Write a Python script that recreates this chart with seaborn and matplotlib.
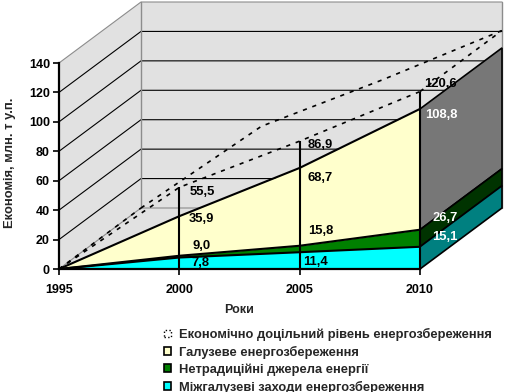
import matplotlib
matplotlib.use('Agg')
import matplotlib.pyplot as plt
from matplotlib.patches import Patch
import seaborn as sns

years = [1995, 2000, 2005, 2010]
mizhgaluzevi = [0, 7.8, 11.4, 15.1]
netradytsiini = [0, 9.0, 15.8, 26.7]
galuzeve = [0, 35.9, 68.7, 108.8]
ekonomichno = [0, 55.5, 86.9, 120.6]
y_ticks = [0, 20, 40, 60, 80, 100, 120, 140]
legend_labels = ['Економічно доцільний рівень енергозбереження',
                 'Галузеве енергозбереження',
                 'Нетрадиційні джерела енергії',
                 'Міжгалузеві заходи енергозбереження']
y_title = 'Економія, млн. т у.п.'
x_title = 'Роки'

sns.set_style('white')
plt.rcParams['font.family'] = ['Liberation Sans', 'DejaVu Sans']
plt.rcParams['font.weight'] = 'bold'
plt.rcParams['axes.labelweight'] = 'bold'

W, H = 508, 392
fig = plt.figure(figsize=(W / 100, H / 100), dpi=100)
ax = fig.add_axes([59 / W, 1 - 269 / H, 361 / W, 206 / H])
ax.set_xlim(1995, 2010)
ax.set_ylim(0, 140)

# depth of the fake 3d box, in data units
dx = 82 / (361 / 15)
dy = 61 / (206 / 140)
wall = '#E1E1E1'
edge = '#8C8C8C'
dash = (0, (2.5, 3.5))

# walls and floor
ax.fill([1995, 1995 + dx, 1995 + dx, 1995], [0, dy, 140 + dy, 140],
        color=wall, lw=0, clip_on=False, zorder=1)
ax.fill([1995 + dx, 2010 + dx, 2010 + dx, 1995 + dx], [dy, dy, 140 + dy, 140 + dy],
        color=wall, lw=0, clip_on=False, zorder=1)
ax.fill([1995, 2010, 2010 + dx, 1995 + dx], [0, 0, dy, dy],
        color=wall, lw=0, clip_on=False, zorder=1)

# grid on walls
for v in y_ticks:
    c = edge if v in (0, 140) else 'black'
    ax.plot([1995, 1995 + dx, 2010 + dx], [v, v + dy, v + dy], color=c,
            lw=0.8, clip_on=False, zorder=2)
ax.plot([1995 + dx, 1995 + dx], [dy, 140 + dy], color=edge, lw=1, clip_on=False, zorder=2)
ax.plot([2010 + dx, 2010 + dx], [dy, 140 + dy], color=edge, lw=1, clip_on=False, zorder=2)

# top level, only dashed outline
back_x = [y + dx for y in years]
back_y = [v + dy for v in ekonomichno]
sns.lineplot(x=years, y=ekonomichno, ax=ax, color='black', lw=1.2, ls=dash,
             clip_on=False, zorder=3, errorbar=None)
sns.lineplot(x=back_x, y=back_y, ax=ax, color='black', lw=1.2, ls=dash,
             clip_on=False, zorder=3, errorbar=None)
ax.plot([1995, back_x[0]], [0, back_y[0]], color='black', lw=1.2, ls=dash,
        clip_on=False, zorder=3)
ax.plot([2010, back_x[-1]], [ekonomichno[-1], back_y[-1]], color='black', lw=1.2,
        ls=dash, clip_on=False, zorder=3)

# stacked front faces and right side faces
layers = [(galuzeve, netradytsiini, '#FFFFCC', '#777777'),
          (netradytsiini, mizhgaluzevi, '#008000', '#003300'),
          (mizhgaluzevi, [0, 0, 0, 0], '#00FFFF', '#008080')]
for top, low, face, side in layers:
    ax.fill_between(years, low, top, color=face, lw=0, clip_on=False, zorder=4)
    ax.fill([2010, 2010 + dx, 2010 + dx, 2010],
            [low[-1], low[-1] + dy, top[-1] + dy, top[-1]],
            facecolor=side, edgecolor='black', lw=1.2, clip_on=False, zorder=4)
    sns.lineplot(x=years, y=top, ax=ax, color='black', lw=1.5, clip_on=False,
                 zorder=5, errorbar=None)

# drop lines
ax.vlines(years[1:], 0, ekonomichno[1:], color='black', lw=1.5, clip_on=False, zorder=6)

# data labels, offsets in pixels from the point, 2000 / 2005 / 2010
label_sets = [(ekonomichno, [(23, -5), (21, -4), (20, 8)], ['black', 'black', 'black']),
              (galuzeve, [(22, -3), (20, -10), (21, -6)], ['black', 'black', 'white']),
              (netradytsiini, [(22, 10), (21, 15), (25, 12)], ['black', 'black', 'white']),
              (mizhgaluzevi, [(21, -5.5), (16, -10), (25, 10)], ['black', 'black', 'white'])]
for vals, offs, cols in label_sets:
    for i in [1, 2, 3]:
        ax.annotate(f'{vals[i]:.1f}'.replace('.', ','), xy=(years[i], vals[i]),
                    xytext=(offs[i - 1][0] * 0.72, offs[i - 1][1] * 0.72),
                    textcoords='offset points', ha='center', va='center',
                    fontsize=9.4, color=cols[i - 1], zorder=7, annotation_clip=False)

# axes
sns.despine(ax=ax)
for s in ['left', 'bottom']:
    ax.spines[s].set_linewidth(1.6)
    ax.spines[s].set_color('black')
    ax.spines[s].set_zorder(8)
ax.set_xticks(years)
ax.set_yticks(y_ticks)
ax.tick_params(axis='both', length=4.5, width=1.2, color='black', labelsize=9,
               labelcolor='black', left=True, bottom=True)
ax.tick_params(axis='x', pad=6)
ax.tick_params(axis='y', pad=2)
ax.set_xlabel(x_title, fontsize=9)
ax.xaxis.set_label_coords((239 - 59) / 361, -(310 - 269) / 206, transform=ax.transAxes)
ax.xaxis.label.set_va('center')
ax.set_ylabel(y_title, fontsize=9.4)
ax.yaxis.set_label_coords((10 - 59) / 361, (269 - 163) / 206, transform=ax.transAxes)
ax.yaxis.label.set_va('center')

# legend
handles = [Patch(facecolor='white', edgecolor='black', lw=1, ls=':'),
           Patch(facecolor='#FFFFCC', edgecolor='black', lw=1.2),
           Patch(facecolor='#008000', edgecolor='black', lw=1.2),
           Patch(facecolor='#00FFFF', edgecolor='black', lw=1.2)]
fig.legend(handles, legend_labels, loc='upper left',
           bbox_to_anchor=(164 / W, 1 - 328 / H), frameon=False, fontsize=9.3,
           handlelength=0.55, handleheight=0.55, handletextpad=0.64,
           labelspacing=0.36, borderpad=0, borderaxespad=0)

fig.savefig('out.png', dpi=100)
